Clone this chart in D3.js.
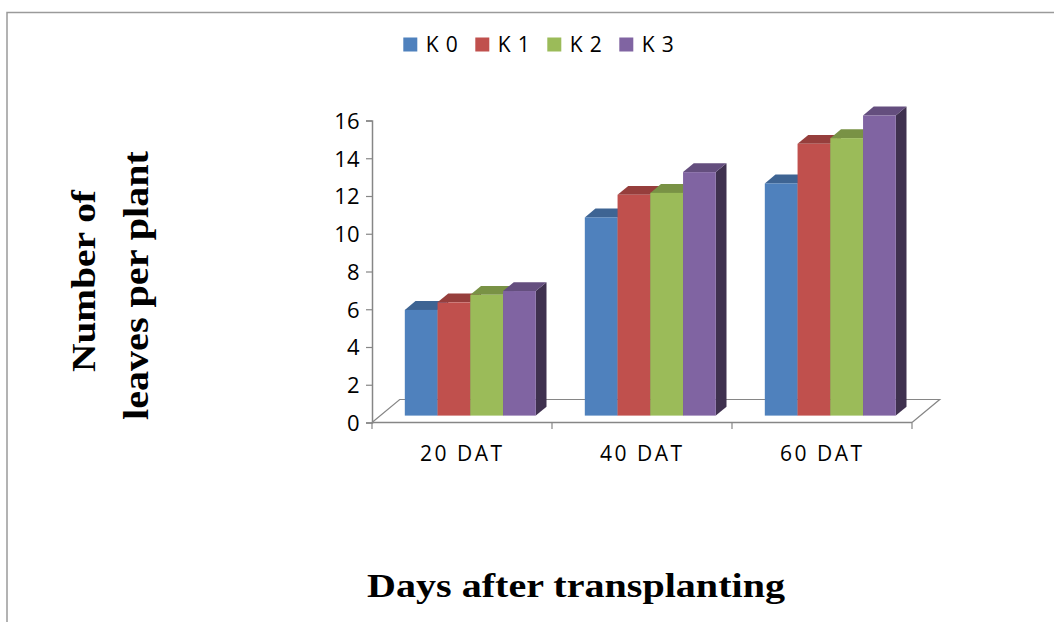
<!DOCTYPE html>
<html>
<head>
<meta charset="utf-8">
<script src="https://cdn.jsdelivr.net/npm/d3@7"></script>
<style>
  html, body { margin: 0; padding: 0; background: #fff; }
  svg { display: block; }
</style>
</head>
<body>
<svg id="chart" width="1054" height="622"></svg>
<script>
// Number of leaves per plant at each sampling date, by treatment
const categories = ["20 DAT", "40 DAT", "60 DAT"];
const series = ["K0", "K1", "K2", "K3"];
const valuesK0 = [5.6, 10.5, 12.3];
const valuesK1 = [6.0, 11.7, 14.4];
const valuesK2 = [6.4, 11.8, 14.7];
const valuesK3 = [6.6, 12.9, 15.9];
const yTicks = [0, 2, 4, 6, 8, 10, 12, 14, 16];
const colors = ["#4F81BD", "#C0504D", "#9BBB59", "#8064A2"];

const seriesValues = [valuesK0, valuesK1, valuesK2, valuesK3];

const svg = d3.select("#chart");
const axisColor = "#868686";

// outer frame
svg.append("rect")
  .attr("x", 7).attr("y", 12.5)
  .attr("width", 1060).attr("height", 620)
  .attr("fill", "none").attr("stroke", "#9a9a9a").attr("stroke-width", 1.5);

// scales (front plane of the 3-D floor)
const y = d3.scaleLinear().domain([0, 16]).range([422.5, 120.5]);
const x = d3.scaleBand().domain(categories).range([372, 912]).paddingInner(0).paddingOuter(0);
const xInner = d3.scaleBand().domain(series)
  .range([24.5, x.bandwidth() - 24.5]).paddingInner(0);

// oblique depth vector of the floor
const depth = { x: 27.7, y: -23 };
const tFront = 0.3, tBack = 0.686;
const proj = (px, v, t) => [px + t * depth.x, y(v) + t * depth.y];

// floor outline
const x0 = 372, x1 = 912;
const floor = svg.append("g").attr("fill", "none").attr("stroke", axisColor).attr("stroke-width", 1.2);
floor.append("path").attr("d", d3.line()([proj(x0, 0, 0), proj(x0, 0, 1), proj(x1, 0, 1), proj(x1, 0, 0)]));

// value axis
const yAxis = svg.append("g")
  .attr("transform", "translate(372,0)")
  .call(d3.axisLeft(y).tickValues(yTicks).tickSize(6).tickPadding(6).tickFormat(d3.format("d")));
yAxis.select(".domain").attr("stroke", axisColor).attr("stroke-width", 1.5);
yAxis.selectAll(".tick line").attr("stroke", axisColor).attr("stroke-width", 1.2);
yAxis.selectAll(".tick text")
  .attr("font-family", "'Open Sans', sans-serif")
  .attr("font-size", 22)
  .attr("fill", "#000")
  .attr("x", -12.5)
  .attr("dy", "0.36em");

// category axis along the front edge of the floor
const xAxis = svg.append("g")
  .attr("transform", "translate(0,422.5)");
xAxis.append("line")
  .attr("x1", x0).attr("x2", x1).attr("y1", 0).attr("y2", 0)
  .attr("stroke", axisColor).attr("stroke-width", 1.5);
xAxis.selectAll("line.tick")
  .data(categories.map(c => x(c)).concat([x1]))
  .join("line")
  .attr("class", "tick")
  .attr("x1", d => d).attr("x2", d => d)
  .attr("y1", 0).attr("y2", 6.5)
  .attr("stroke", axisColor).attr("stroke-width", 1.2);
xAxis.selectAll("text")
  .data(categories)
  .join("text")
  .attr("x", d => x(d) + x.bandwidth() / 2 - 1)
  .attr("y", 38)
  .attr("text-anchor", "middle")
  .attr("font-family", "'Open Sans', sans-serif")
  .attr("font-size", 21)
  .attr("textLength", 82)
  .attr("lengthAdjust", "spacing")
  .attr("fill", "#000")
  .text(d => d);

// 3-D bars
const bars = svg.append("g");
categories.forEach((cat, ci) => {
  series.forEach((s, si) => {
    const v = seriesValues[si][ci];
    const bx = x(cat) + xInner(s);
    const bw = xInner.bandwidth();
    const base = d3.color(colors[si]);
    const g = bars.append("g");
    // right side
    g.append("path")
      .attr("d", d3.line()([proj(bx + bw, 0, tFront), proj(bx + bw, 0, tBack), proj(bx + bw, v, tBack), proj(bx + bw, v, tFront)]) + "Z")
      .attr("fill", base.darker(2));
    // top
    g.append("path")
      .attr("d", d3.line()([proj(bx, v, tFront), proj(bx, v, tBack), proj(bx + bw, v, tBack), proj(bx + bw, v, tFront)]) + "Z")
      .attr("fill", base.darker(0.7));
    // front
    const [fx, fy] = proj(bx, v, tFront);
    const [, fy0] = proj(bx, 0, tFront);
    g.append("rect")
      .attr("x", fx).attr("y", fy)
      .attr("width", bw).attr("height", fy0 - fy)
      .attr("fill", base);
  });
});

// legend
const legend = svg.append("g");
series.forEach((s, i) => {
  const lx = 403.3 + i * 72;
  legend.append("rect")
    .attr("x", lx).attr("y", 37.5)
    .attr("width", 14).attr("height", 14)
    .attr("fill", colors[i]);
  legend.append("text")
    .attr("x", lx + 22.5).attr("y", 52)
    .attr("font-family", "'Open Sans', sans-serif")
    .attr("font-size", 21)
    .attr("textLength", 32)
    .attr("lengthAdjust", "spacing")
    .attr("fill", "#000")
    .text(s);
});

// axis titles
svg.append("text")
  .attr("x", 576).attr("y", 596.7)
  .attr("text-anchor", "middle")
  .attr("font-family", "'Liberation Serif', 'Times New Roman', serif")
  .attr("font-weight", "bold")
  .attr("font-size", 34)
  .attr("textLength", 418)
  .attr("lengthAdjust", "spacingAndGlyphs")
  .attr("fill", "#000")
  .text("Days after transplanting");

svg.append("text")
  .attr("transform", "translate(95,281) rotate(-90)")
  .attr("text-anchor", "middle")
  .attr("font-family", "'Liberation Serif', 'Times New Roman', serif")
  .attr("font-weight", "bold")
  .attr("font-size", 34)
  .attr("textLength", 182)
  .attr("lengthAdjust", "spacingAndGlyphs")
  .attr("fill", "#000")
  .text("Number of");

svg.append("text")
  .attr("transform", "translate(148,285.5) rotate(-90)")
  .attr("text-anchor", "middle")
  .attr("font-family", "'Liberation Serif', 'Times New Roman', serif")
  .attr("font-weight", "bold")
  .attr("font-size", 35)
  .attr("textLength", 269)
  .attr("lengthAdjust", "spacingAndGlyphs")
  .attr("fill", "#000")
  .text("leaves per plant");
</script>
</body>
</html>
